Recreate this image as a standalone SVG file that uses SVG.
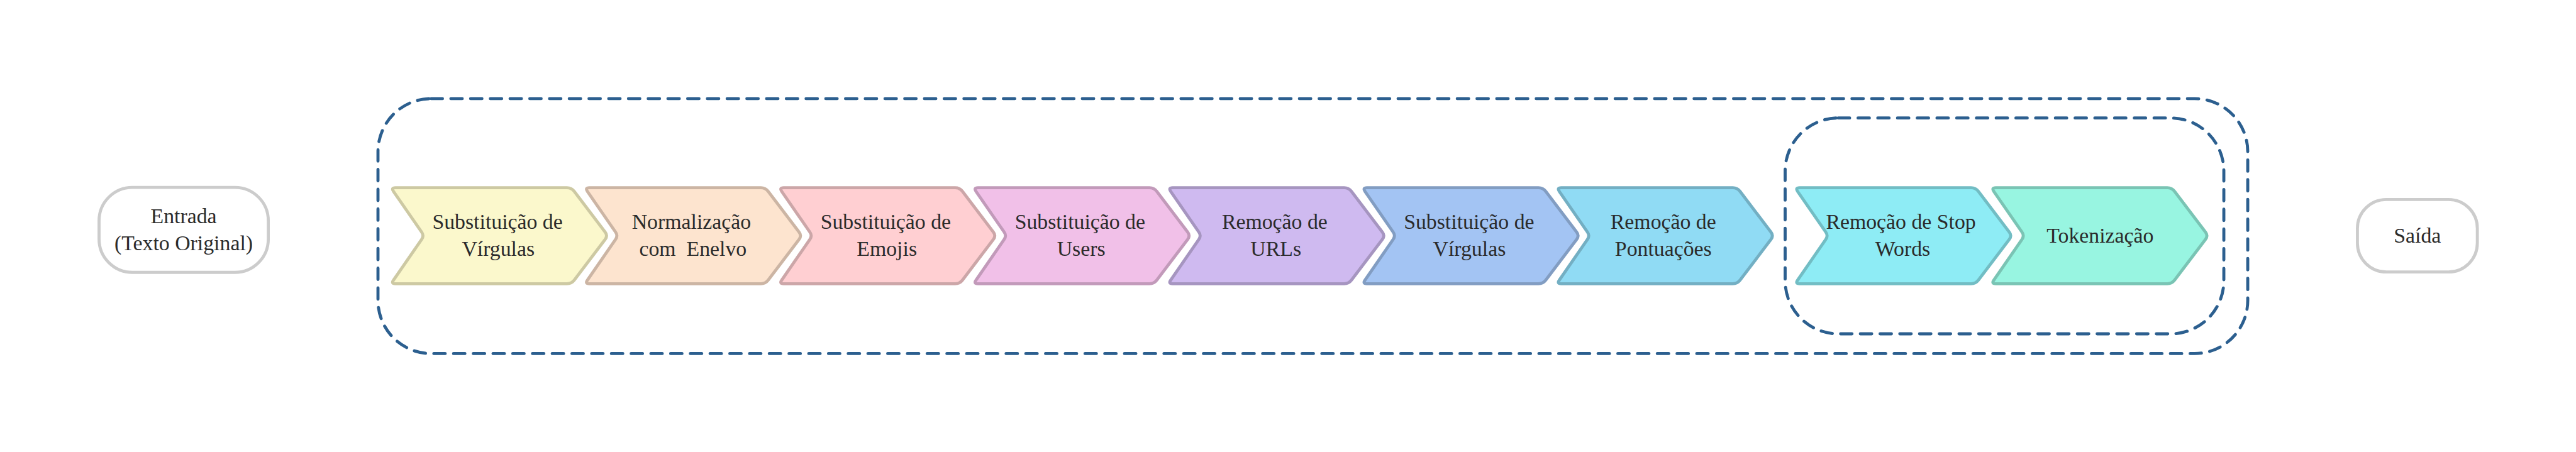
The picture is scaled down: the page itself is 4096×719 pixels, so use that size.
<svg xmlns="http://www.w3.org/2000/svg" xmlns:xlink="http://www.w3.org/1999/xlink" width="4096" height="719" viewBox="0 0 4096 719">
<style>
text{font-family:"Liberation Serif","Times New Roman",serif;font-size:56px;text-anchor:middle;fill:#2b2b2b}
.term{fill:#ffffff;stroke:#cccccc;stroke-width:8}
.grp{fill:none;stroke:#2c5f8f;stroke-width:8;stroke-dasharray:30 22;stroke-linecap:round}
.chev{stroke-width:8;stroke-linejoin:round}
</style>
<defs>
<path id="chev" d="M16,495 L468,495 Q480,495 487.3,504.6 L568.7,611.9 Q576,621.5 568.7,631.1 L487.3,738.4 Q480,748 468,748 L16,748 Q4,748 11,738.3 L85,631.2 Q92,621.5 85,611.8 L11,504.7 Q4,495 16,495 Z"/>
</defs>
<rect width="4096" height="719" fill="#ffffff"/>
<g transform="scale(0.60342)">
<g id="groups">
<rect id="outer-group" class="grp" x="996" y="260" width="4927" height="672" rx="140"/>
<rect id="inner-group" class="grp" x="4704" y="311" width="1156" height="569" rx="140"/>
</g>
<g id="entrada">
<rect class="term" x="261" y="494" width="446" height="224" rx="88"/>
<text x="484" y="588" fill="#333">Entrada</text>
<text x="484" y="660" fill="#333">(Texto Original)</text>
</g>
<g id="step1">
<use xlink:href="#chev" x="1026" class="chev" fill="#fbf8cc" stroke="#cdc9a3"/>
<text x="1311" y="603">Substituição de</text>
<text x="1313" y="674">Vírgulas</text>
</g>
<g id="step2">
<use xlink:href="#chev" x="1537" class="chev" fill="#fde4cf" stroke="#ccb5a4"/>
<text x="1822" y="603">Normalização</text>
<text x="1826" y="674">com&#160; Enelvo</text>
</g>
<g id="step3">
<use xlink:href="#chev" x="2049" class="chev" fill="#ffcfd2" stroke="#cca6a8"/>
<text x="2334" y="603">Substituição de</text>
<text x="2337" y="674">Emojis</text>
</g>
<g id="step4">
<use xlink:href="#chev" x="2561" class="chev" fill="#f1c0e8" stroke="#c29aba"/>
<text x="2846" y="603">Substituição de</text>
<text x="2849" y="674">Users</text>
</g>
<g id="step5">
<use xlink:href="#chev" x="3074" class="chev" fill="#cfbaf0" stroke="#a695c0"/>
<text x="3359" y="603">Remoção de</text>
<text x="3362" y="674">URLs</text>
</g>
<g id="step6">
<use xlink:href="#chev" x="3586" class="chev" fill="#a3c4f3" stroke="#829dc2"/>
<text x="3871" y="603">Substituição de</text>
<text x="3872" y="674">Vírgulas</text>
</g>
<g id="step7">
<use xlink:href="#chev" x="4098" class="chev" fill="#90dbf4" stroke="#73afc3"/>
<text x="4383" y="603">Remoção de</text>
<text x="4383" y="674">Pontuações</text>
</g>
<g id="step8">
<use xlink:href="#chev" x="4726" class="chev" fill="#8eecf5" stroke="#72bdc4"/>
<text x="5009" y="603">Remoção de Stop</text>
<text x="5014" y="674">Words</text>
</g>
<g id="step9">
<use xlink:href="#chev" x="5243" class="chev" fill="#98f5e1" stroke="#7ac4b4"/>
<text x="5534" y="640">Tokenização</text>
</g>
<g id="saida">
<rect class="term" x="6212" y="526" width="316" height="191" rx="76"/>
<text x="6370" y="640" fill="#333">Saída</text>
</g>
</g>
</svg>
